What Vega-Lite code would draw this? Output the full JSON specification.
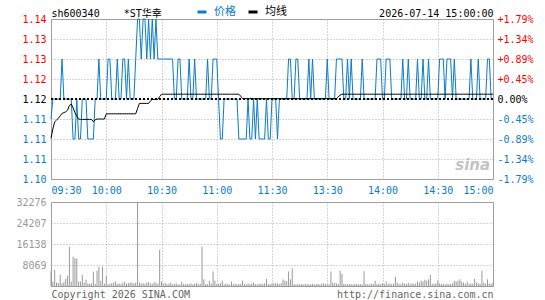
{
  "$schema": "https://vega.github.io/schema/vega-lite/v6.json",
  "background": "white",
  "padding": {"left": 0, "top": 6, "right": 0, "bottom": 0},
  "spacing": 0,
  "config": {
    "view": {"stroke": "#999", "strokeWidth": 1},
    "axis": {
      "ticks": false,
      "tickSize": 0,
      "domain": false,
      "title": null,
      "labelFont": "DejaVu Sans Mono, Noto Sans CJK SC",
      "labelFontSize": 10,
      "gridColor": "#aaa",
      "gridDash": [1, 2],
      "labelOverlap": false
    }
  },
  "data": {
    "values": [
      {"m":0,"p":1.115,"a":1.1102,"v":5880},{"m":1,"p":1.12,"a":1.1125,"v":1650},{"m":2,"p":1.12,"a":1.1143,"v":6260},{"m":3,"p":1.12,"a":1.1147,"v":1300},{"m":4,"p":1.12,"a":1.1152,"v":1100},
      {"m":5,"p":1.12,"a":1.1158,"v":4340},{"m":6,"p":1.13,"a":1.1164,"v":1000},{"m":7,"p":1.12,"a":1.1166,"v":1500},{"m":8,"p":1.12,"a":1.1168,"v":2690},{"m":9,"p":1.12,"a":1.1172,"v":3960},
      {"m":10,"p":1.12,"a":1.1184,"v":15100},{"m":11,"p":1.12,"a":1.1187,"v":1700},{"m":12,"p":1.11,"a":1.1178,"v":11260},{"m":13,"p":1.11,"a":1.1166,"v":10600},{"m":14,"p":1.12,"a":1.1157,"v":10600},
      {"m":15,"p":1.11,"a":1.115,"v":1700},{"m":16,"p":1.11,"a":1.1149,"v":1700},{"m":17,"p":1.12,"a":1.1149,"v":4340},{"m":18,"p":1.12,"a":1.1149,"v":1300},{"m":19,"p":1.12,"a":1.1149,"v":2420},
      {"m":20,"p":1.11,"a":1.1149,"v":1000},{"m":21,"p":1.11,"a":1.1149,"v":900},{"m":22,"p":1.11,"a":1.1149,"v":1000},{"m":23,"p":1.11,"a":1.1143,"v":5500},{"m":24,"p":1.12,"a":1.1148,"v":800},
      {"m":25,"p":1.12,"a":1.115,"v":5880},{"m":26,"p":1.13,"a":1.115,"v":7410},{"m":27,"p":1.12,"a":1.115,"v":2040},{"m":28,"p":1.12,"a":1.115,"v":7410},{"m":29,"p":1.12,"a":1.115,"v":900},
      {"m":30,"p":1.12,"a":1.1163,"v":3840},{"m":31,"p":1.13,"a":1.1163,"v":700},{"m":32,"p":1.13,"a":1.1163,"v":900},{"m":33,"p":1.12,"a":1.1163,"v":1100},{"m":34,"p":1.12,"a":1.1163,"v":1300},
      {"m":35,"p":1.12,"a":1.1163,"v":1700},{"m":36,"p":1.13,"a":1.1163,"v":800},{"m":37,"p":1.12,"a":1.1163,"v":1000},{"m":38,"p":1.12,"a":1.1163,"v":700},{"m":39,"p":1.13,"a":1.1163,"v":1200},
      {"m":40,"p":1.13,"a":1.1163,"v":1700},{"m":41,"p":1.12,"a":1.1163,"v":900},{"m":42,"p":1.13,"a":1.1163,"v":1100},{"m":43,"p":1.12,"a":1.1163,"v":1300},{"m":44,"p":1.12,"a":1.1163,"v":1300},
      {"m":45,"p":1.12,"a":1.1163,"v":1000},{"m":46,"p":1.13,"a":1.1163,"v":1300},{"m":47,"p":1.14,"a":1.1176,"v":32276},{"m":48,"p":1.14,"a":1.1189,"v":1300},{"m":49,"p":1.13,"a":1.1189,"v":900},
      {"m":50,"p":1.14,"a":1.1189,"v":1100},{"m":51,"p":1.14,"a":1.1189,"v":700},{"m":52,"p":1.13,"a":1.1189,"v":1300},{"m":53,"p":1.14,"a":1.1189,"v":1500},{"m":54,"p":1.13,"a":1.1195,"v":1000},
      {"m":55,"p":1.14,"a":1.1199,"v":800},{"m":56,"p":1.13,"a":1.1199,"v":1500},{"m":57,"p":1.14,"a":1.1199,"v":1200},{"m":58,"p":1.13,"a":1.1199,"v":900},{"m":59,"p":1.13,"a":1.1206,"v":13950},
      {"m":60,"p":1.13,"a":1.1212,"v":1700},{"m":61,"p":1.13,"a":1.1212,"v":800},{"m":62,"p":1.13,"a":1.1212,"v":1200},{"m":63,"p":1.13,"a":1.1212,"v":700},{"m":64,"p":1.13,"a":1.1212,"v":900},
      {"m":65,"p":1.13,"a":1.1212,"v":1300},{"m":66,"p":1.13,"a":1.1212,"v":600},{"m":67,"p":1.12,"a":1.1212,"v":800},{"m":68,"p":1.12,"a":1.1212,"v":1000},{"m":69,"p":1.13,"a":1.1212,"v":700},
      {"m":70,"p":1.13,"a":1.1212,"v":600},{"m":71,"p":1.12,"a":1.1212,"v":1700},{"m":72,"p":1.12,"a":1.1212,"v":800},{"m":73,"p":1.12,"a":1.1212,"v":600},{"m":74,"p":1.12,"a":1.1212,"v":900},
      {"m":75,"p":1.13,"a":1.1212,"v":700},{"m":76,"p":1.12,"a":1.1212,"v":1000},{"m":77,"p":1.12,"a":1.1212,"v":600},{"m":78,"p":1.13,"a":1.1212,"v":800},{"m":79,"p":1.12,"a":1.1212,"v":1100},
      {"m":80,"p":1.12,"a":1.1212,"v":700},{"m":81,"p":1.12,"a":1.1212,"v":900},{"m":82,"p":1.12,"a":1.1212,"v":15100},{"m":83,"p":1.12,"a":1.1212,"v":2540},{"m":84,"p":1.12,"a":1.1212,"v":800},
      {"m":85,"p":1.13,"a":1.1212,"v":700},{"m":86,"p":1.12,"a":1.1212,"v":2040},{"m":87,"p":1.12,"a":1.1212,"v":900},{"m":88,"p":1.13,"a":1.1212,"v":5610},{"m":89,"p":1.13,"a":1.1212,"v":2040},
      {"m":90,"p":1.13,"a":1.1212,"v":700},{"m":91,"p":1.12,"a":1.1212,"v":800},{"m":92,"p":1.11,"a":1.1212,"v":1100},{"m":93,"p":1.11,"a":1.1212,"v":2040},{"m":94,"p":1.12,"a":1.1212,"v":700},
      {"m":95,"p":1.12,"a":1.1212,"v":900},{"m":96,"p":1.12,"a":1.1212,"v":800},{"m":97,"p":1.12,"a":1.1212,"v":600},{"m":98,"p":1.12,"a":1.1212,"v":1700},{"m":99,"p":1.12,"a":1.1212,"v":700},
      {"m":100,"p":1.12,"a":1.1212,"v":900},{"m":101,"p":1.12,"a":1.1212,"v":600},{"m":102,"p":1.11,"a":1.1212,"v":800},{"m":103,"p":1.11,"a":1.1207,"v":700},{"m":104,"p":1.11,"a":1.1201,"v":2040},
      {"m":105,"p":1.11,"a":1.1201,"v":800},{"m":106,"p":1.11,"a":1.1201,"v":600},{"m":107,"p":1.12,"a":1.1201,"v":900},{"m":108,"p":1.11,"a":1.1201,"v":700},{"m":109,"p":1.11,"a":1.1201,"v":1000},
      {"m":110,"p":1.12,"a":1.1201,"v":1300},{"m":111,"p":1.11,"a":1.1201,"v":700},{"m":112,"p":1.12,"a":1.1201,"v":600},{"m":113,"p":1.11,"a":1.1201,"v":800},{"m":114,"p":1.11,"a":1.1201,"v":900},
      {"m":115,"p":1.11,"a":1.1201,"v":700},{"m":116,"p":1.11,"a":1.1201,"v":1000},{"m":117,"p":1.12,"a":1.1201,"v":2690},{"m":118,"p":1.11,"a":1.1201,"v":800},{"m":119,"p":1.11,"a":1.1201,"v":700},
      {"m":120,"p":1.12,"a":1.1201,"v":1000},{"m":121,"p":1.12,"a":1.1201,"v":900},{"m":122,"p":1.12,"a":1.1201,"v":1200},{"m":123,"p":1.11,"a":1.1201,"v":1000},{"m":124,"p":1.12,"a":1.1201,"v":800},
      {"m":125,"p":1.12,"a":1.1201,"v":1100},{"m":126,"p":1.12,"a":1.1201,"v":2540},{"m":127,"p":1.12,"a":1.1201,"v":2040},{"m":128,"p":1.12,"a":1.1201,"v":1750},{"m":129,"p":1.13,"a":1.1201,"v":5610},
      {"m":130,"p":1.13,"a":1.1201,"v":2540},{"m":131,"p":1.12,"a":1.1201,"v":6760},{"m":132,"p":1.12,"a":1.1201,"v":700},{"m":133,"p":1.13,"a":1.1201,"v":600},{"m":134,"p":1.13,"a":1.1201,"v":800},
      {"m":135,"p":1.12,"a":1.1201,"v":600},{"m":136,"p":1.12,"a":1.1201,"v":700},{"m":137,"p":1.12,"a":1.1201,"v":600},{"m":138,"p":1.12,"a":1.1201,"v":800},{"m":139,"p":1.12,"a":1.1201,"v":700},
      {"m":140,"p":1.13,"a":1.1201,"v":600},{"m":141,"p":1.12,"a":1.1201,"v":700},{"m":142,"p":1.13,"a":1.1201,"v":800},{"m":143,"p":1.12,"a":1.1201,"v":600},{"m":144,"p":1.12,"a":1.1201,"v":700},
      {"m":145,"p":1.12,"a":1.1201,"v":800},{"m":146,"p":1.12,"a":1.1201,"v":600},{"m":147,"p":1.12,"a":1.1201,"v":900},{"m":148,"p":1.12,"a":1.1201,"v":1000},{"m":149,"p":1.12,"a":1.1201,"v":800},
      {"m":150,"p":1.13,"a":1.1201,"v":600},{"m":151,"p":1.12,"a":1.1201,"v":700},{"m":152,"p":1.12,"a":1.1201,"v":5610},{"m":153,"p":1.12,"a":1.1201,"v":1300},{"m":154,"p":1.12,"a":1.1201,"v":1100},
      {"m":155,"p":1.13,"a":1.1201,"v":1000},{"m":156,"p":1.13,"a":1.1205,"v":700},{"m":157,"p":1.13,"a":1.121,"v":5880},{"m":158,"p":1.13,"a":1.1212,"v":4610},{"m":159,"p":1.12,"a":1.1212,"v":800},
      {"m":160,"p":1.12,"a":1.1212,"v":700},{"m":161,"p":1.13,"a":1.1212,"v":600},{"m":162,"p":1.12,"a":1.1212,"v":800},{"m":163,"p":1.13,"a":1.1212,"v":700},{"m":164,"p":1.12,"a":1.1212,"v":600},
      {"m":165,"p":1.12,"a":1.1212,"v":700},{"m":166,"p":1.12,"a":1.1212,"v":800},{"m":167,"p":1.12,"a":1.1212,"v":600},{"m":168,"p":1.12,"a":1.1212,"v":700},{"m":169,"p":1.13,"a":1.1212,"v":600},
      {"m":170,"p":1.12,"a":1.1212,"v":5610},{"m":171,"p":1.12,"a":1.1212,"v":800},{"m":172,"p":1.12,"a":1.1212,"v":700},{"m":173,"p":1.12,"a":1.1212,"v":600},{"m":174,"p":1.12,"a":1.1212,"v":900},
      {"m":175,"p":1.12,"a":1.1212,"v":800},{"m":176,"p":1.12,"a":1.1212,"v":2040},{"m":177,"p":1.13,"a":1.1212,"v":700},{"m":178,"p":1.13,"a":1.1212,"v":900},{"m":179,"p":1.13,"a":1.1212,"v":800},
      {"m":180,"p":1.12,"a":1.1212,"v":1000},{"m":181,"p":1.12,"a":1.1212,"v":700},{"m":182,"p":1.13,"a":1.1212,"v":1700},{"m":183,"p":1.13,"a":1.1212,"v":800},{"m":184,"p":1.13,"a":1.1212,"v":1000},
      {"m":185,"p":1.12,"a":1.1212,"v":700},{"m":186,"p":1.12,"a":1.1212,"v":900},{"m":187,"p":1.12,"a":1.1212,"v":3570},{"m":188,"p":1.12,"a":1.1212,"v":1300},{"m":189,"p":1.12,"a":1.1212,"v":800},
      {"m":190,"p":1.12,"a":1.1212,"v":700},{"m":191,"p":1.13,"a":1.1212,"v":1300},{"m":192,"p":1.12,"a":1.1212,"v":900},{"m":193,"p":1.12,"a":1.1212,"v":800},{"m":194,"p":1.13,"a":1.1212,"v":1300},
      {"m":195,"p":1.12,"a":1.1212,"v":700},{"m":196,"p":1.12,"a":1.1212,"v":1000},{"m":197,"p":1.12,"a":1.1212,"v":800},{"m":198,"p":1.12,"a":1.1212,"v":900},{"m":199,"p":1.13,"a":1.1212,"v":1700},
      {"m":200,"p":1.12,"a":1.1212,"v":1300},{"m":201,"p":1.12,"a":1.1212,"v":2040},{"m":202,"p":1.13,"a":1.1212,"v":1700},{"m":203,"p":1.12,"a":1.1212,"v":2420},{"m":204,"p":1.12,"a":1.1212,"v":2040},
      {"m":205,"p":1.13,"a":1.1212,"v":2540},{"m":206,"p":1.12,"a":1.1212,"v":4340},{"m":207,"p":1.12,"a":1.1212,"v":900},{"m":208,"p":1.12,"a":1.1212,"v":800},{"m":209,"p":1.12,"a":1.1212,"v":1000},
      {"m":210,"p":1.12,"a":1.1212,"v":2040},{"m":211,"p":1.13,"a":1.1212,"v":900},{"m":212,"p":1.13,"a":1.1212,"v":700},{"m":213,"p":1.13,"a":1.1212,"v":800},{"m":214,"p":1.12,"a":1.1212,"v":600},
      {"m":215,"p":1.13,"a":1.1212,"v":900},{"m":216,"p":1.13,"a":1.1212,"v":700},{"m":217,"p":1.13,"a":1.1212,"v":800},{"m":218,"p":1.12,"a":1.1212,"v":1000},{"m":219,"p":1.13,"a":1.1212,"v":2040},
      {"m":220,"p":1.12,"a":1.1212,"v":1700},{"m":221,"p":1.12,"a":1.1212,"v":2040},{"m":222,"p":1.12,"a":1.1212,"v":2540},{"m":223,"p":1.12,"a":1.1212,"v":1700},{"m":224,"p":1.12,"a":1.1212,"v":1300},
      {"m":225,"p":1.12,"a":1.1212,"v":900},{"m":226,"p":1.12,"a":1.1212,"v":1700},{"m":227,"p":1.12,"a":1.1212,"v":800},{"m":228,"p":1.13,"a":1.1212,"v":1000},{"m":229,"p":1.12,"a":1.1212,"v":900},
      {"m":230,"p":1.12,"a":1.1212,"v":2690},{"m":231,"p":1.12,"a":1.1212,"v":1300},{"m":232,"p":1.13,"a":1.1212,"v":1000},{"m":233,"p":1.12,"a":1.1212,"v":800},{"m":234,"p":1.12,"a":1.1212,"v":5880},
      {"m":235,"p":1.12,"a":1.1212,"v":1300},{"m":236,"p":1.12,"a":1.1212,"v":900},{"m":237,"p":1.13,"a":1.1212,"v":2540},{"m":238,"p":1.13,"a":1.1212,"v":1000},{"m":239,"p":1.12,"a":1.1212,"v":800},
      {"m":240,"p":1.12,"a":1.1212,"v":1300}
    ]
  },
  "vconcat": [
    {
      "width": 442,
      "height": 160,
      "layer": [
        {
          "mark": {"type": "line", "strokeWidth": 1, "color": "#0b7bcb"},
          "encoding": {
            "x": {
              "field": "m", "type": "quantitative",
              "scale": {"domain": [0, 240], "nice": false, "zero": false},
              "axis": {
                "orient": "bottom",
                "values": [0, 30, 60, 90, 120, 150, 180, 210, 240],
                "labelExpr": "['09:30','10:00','10:30','11:00','11:30','13:30','14:00','14:30','15:00'][round(datum.value / 30)]",
                "labelColor": "#0b7bcb",
                "labelPadding": 6,
                "grid": true
              }
            },
            "y": {
              "field": "p", "type": "quantitative",
              "scale": {"domain": [1.10, 1.14], "nice": false, "zero": false},
              "axis": {
                "orient": "left",
                "values": [1.10, 1.105, 1.11, 1.115, 1.12, 1.125, 1.13, 1.135, 1.14],
                "labelExpr": "['1.10','1.11','1.11','1.11','1.12','1.12','1.13','1.13','1.14'][round((datum.value - 1.10) * 200)]",
                "labelColor": {"condition": [{"test": "datum.value > 1.1201", "value": "#f00"}, {"test": "datum.value < 1.1199", "value": "#0b7bcb"}], "value": "#000"},
                "labelPadding": 5,
                "minExtent": 50,
                "maxExtent": 50,
                "grid": true
              }
            },
            "color": {
              "datum": "价格", "type": "nominal",
              "scale": {"domain": ["价格", "均线"], "range": ["#0b7bcb", "#000000"]},
              "legend": {
                "orient": "none",
                "legendX": 145,
                "legendY": -13,
                "direction": "horizontal",
                "title": null,
                "padding": 0,
                "symbolType": "stroke",
                "symbolSize": 81,
                "symbolStrokeWidth": 3,
                "labelFont": "Noto Sans CJK SC",
                "labelFontSize": 11,
                "labelOffset": 6,
                "columnPadding": 6,
                "labelColor": {"expr": "datum.label == '价格' ? '#0b7bcb' : '#000'"}
              }
            }
          }
        },
        {
          "mark": {"type": "rule", "color": "#000", "strokeWidth": 1, "strokeDash": [2, 2]},
          "encoding": {
            "y": {"datum": 1.12, "type": "quantitative", "scale": {"domain": [1.10, 1.14], "nice": false, "zero": false}, "axis": null}
          }
        },
        {
          "mark": {"type": "line", "strokeWidth": 1, "color": "#000"},
          "encoding": {
            "x": {
              "field": "m", "type": "quantitative",
              "scale": {"domain": [0, 240], "nice": false, "zero": false},
              "axis": {
                "orient": "top",
                "values": [0, 240],
                "labelExpr": "datum.value == 0 ? 'sh600340\u00a0\u00a0\u00a0\u00a0*ST华幸' : '2026-07-14 15:00:00'",
                "labelFlush": true,
                "labelColor": "#000",
                "labelPadding": 3,
                "labelBaseline": "alphabetic",
                "grid": false
              }
            },
            "y": {
              "field": "a", "type": "quantitative",
              "scale": {"domain": [1.10, 1.14], "nice": false, "zero": false},
              "axis": {
                "orient": "right",
                "values": [1.10, 1.105, 1.11, 1.115, 1.12, 1.125, 1.13, 1.135, 1.14],
                "labelExpr": "['-1.79%','-1.34%','-0.89%','-0.45%','0.00%','+0.45%','+0.89%','+1.34%','+1.79%'][round((datum.value - 1.10) * 200)]",
                "labelColor": {"condition": [{"test": "datum.value > 1.1201", "value": "#f00"}, {"test": "datum.value < 1.1199", "value": "#0b7bcb"}], "value": "#000"},
                "labelPadding": 4,
                "grid": false
              }
            },
            "color": {"datum": "均线", "type": "nominal"}
          }
        },
        {
          "data": {"values": [{"label": "sina"}]},
          "mark": {"type": "text", "font": "DejaVu Sans", "fontSize": 15, "fontWeight": "bold", "fontStyle": "italic", "color": "#c4c4c4", "align": "center", "baseline": "middle"},
          "encoding": {
            "text": {"field": "label"},
            "x": {"datum": 229, "type": "quantitative", "scale": {"domain": [0, 240], "nice": false, "zero": false}, "axis": null},
            "y": {"datum": 1.1034, "type": "quantitative", "scale": {"domain": [1.10, 1.14], "nice": false, "zero": false}, "axis": null}
          }
        }
      ],
      "resolve": {"scale": {"x": "independent", "y": "independent"}, "axis": {"x": "independent", "y": "independent"}}
    },
    {
      "width": 442,
      "height": 84,
      "mark": {"type": "rule", "color": "#999", "strokeWidth": 1},
      "encoding": {
        "x": {
          "field": "m", "type": "quantitative",
          "scale": {"domain": [0, 240], "nice": false, "zero": false},
          "axis": {
            "values": [0, 30, 60, 90, 120, 150, 180, 210, 240],
            "labelExpr": "datum.value == 0 ? 'Copyright 2026 SINA.COM' : datum.value == 240 ? 'http://finance.sina.com.cn' : ''",
            "labelFlush": true,
            "labelColor": "#666",
            "labelPadding": 3,
            "grid": true
          }
        },
        "y": {
          "field": "v", "type": "quantitative",
          "scale": {"domain": [0, 32276], "nice": false, "zero": true},
          "axis": {
            "values": [8069, 16138, 24207, 32276],
            "format": "d",
            "labelColor": "#999",
            "labelPadding": 5,
            "minExtent": 50,
            "maxExtent": 50,
            "grid": true
          }
        },
        "y2": {"datum": 0}
      }
    }
  ]
}
